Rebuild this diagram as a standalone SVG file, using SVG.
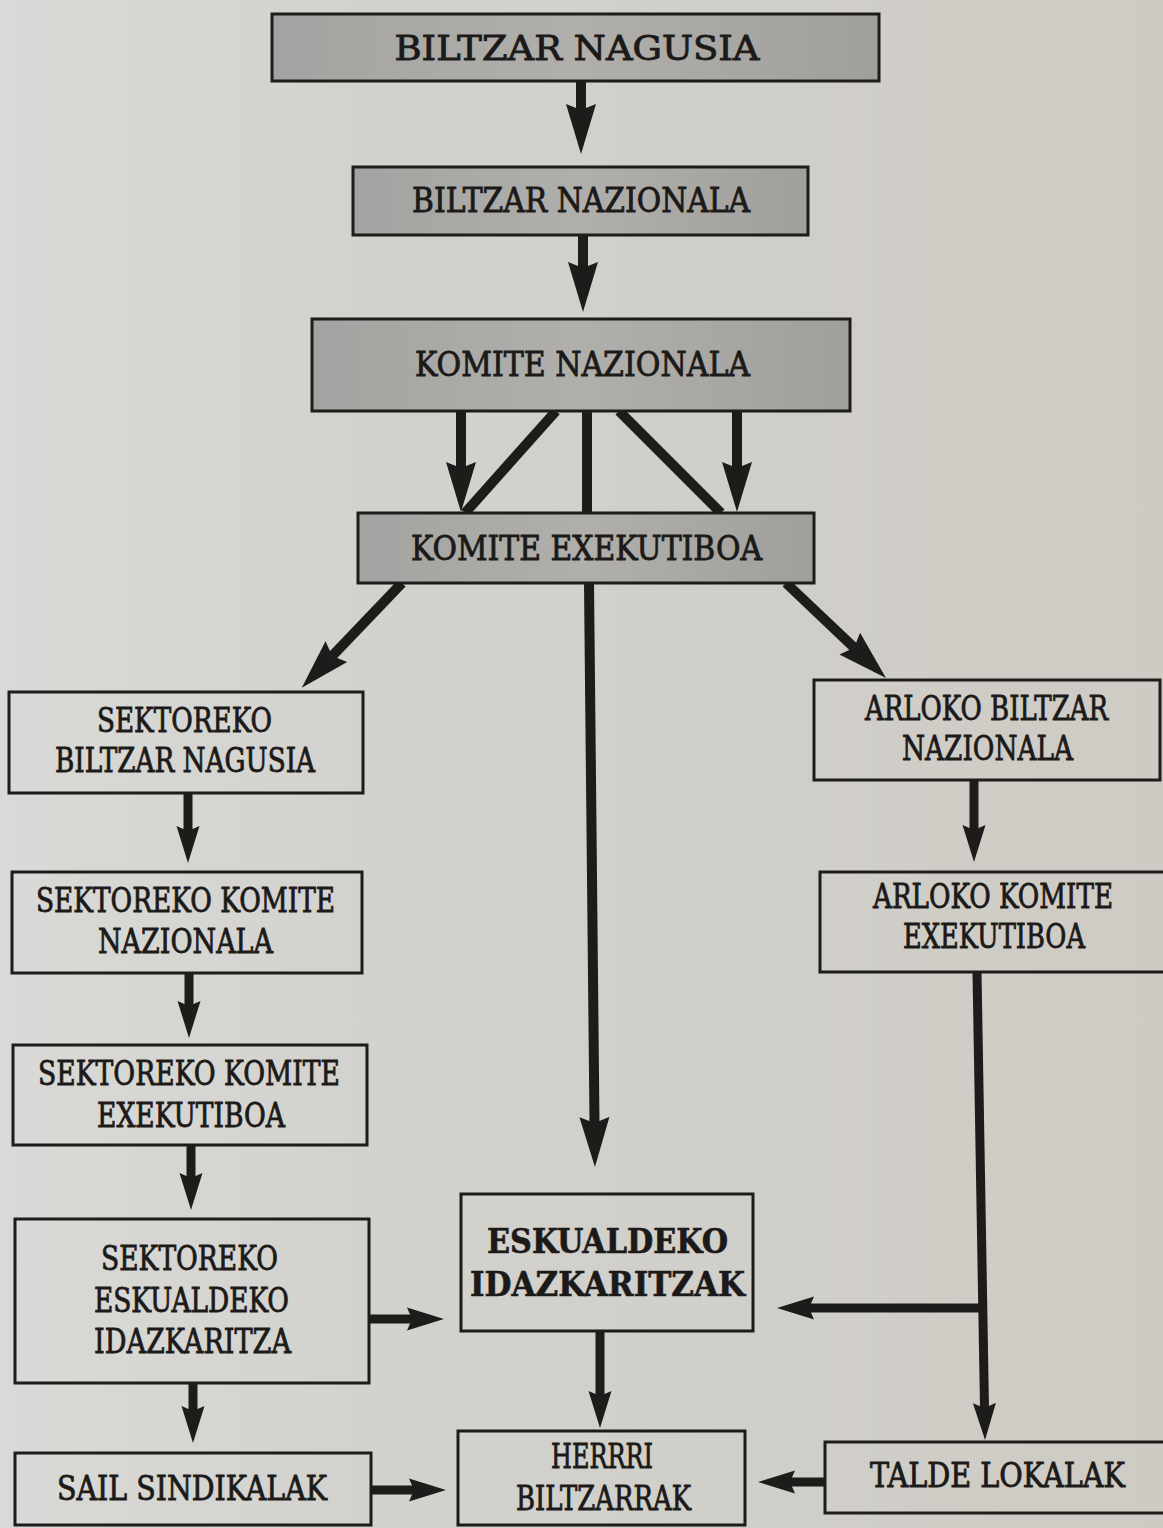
<svg xmlns="http://www.w3.org/2000/svg" width="1163" height="1528" viewBox="0 0 1163 1528">
<defs>
  <linearGradient id="paper" x1="0" y1="0" x2="1" y2="0">
    <stop offset="0" stop-color="#d9d9d7"/>
    <stop offset="0.3" stop-color="#d3d2ce"/>
    <stop offset="1" stop-color="#cecbc4"/>
  </linearGradient>
  <linearGradient id="greyfill" x1="0" y1="0" x2="1" y2="0">
    <stop offset="0" stop-color="#a3a3a1"/>
    <stop offset="0.5" stop-color="#b0afac"/>
    <stop offset="1" stop-color="#a09f9c"/>
  </linearGradient>
  <marker id="big" markerUnits="userSpaceOnUse" viewBox="0 -16 52 32" markerWidth="52" markerHeight="32" refX="6" refY="0" orient="auto">
    <path d="M0,-15 L50,0 L0,15 L6,0 Z" fill="#1e1c1a"/>
  </marker>
  <marker id="small" markerUnits="userSpaceOnUse" viewBox="0 -13 40 26" markerWidth="40" markerHeight="26" refX="5" refY="0" orient="auto">
    <path d="M0,-11.5 L37,0 L0,11.5 L5,0 Z" fill="#1e1c1a"/>
  </marker>
</defs>
<style>
  .box { stroke: #1e1c1a; stroke-width: 3; fill: none; }
  .grey { fill: url(#greyfill); }
  .t { font-family: "DejaVu Serif Condensed", "DejaVu Serif", "Liberation Serif", serif; font-stretch: condensed; fill: #1c1a18; stroke: #1c1a18; stroke-width: 0.8px; text-anchor: middle; font-size: 34px; }
  .b { font-weight: bold; stroke-width: 0.6px; }
  .c { stroke: #1e1c1a; stroke-width: 10; fill: none; }
  .cs { stroke: #1e1c1a; stroke-width: 9; fill: none; }
</style>
<rect x="0" y="0" width="1163" height="1528" fill="url(#paper)"/>

<g id="connectors">
  <line class="c" x1="581" y1="81" x2="581" y2="110" marker-end="url(#big)"/>
  <line class="c" x1="583" y1="235" x2="583" y2="268" marker-end="url(#big)"/>
  <line class="c" x1="461" y1="411" x2="461" y2="468" marker-end="url(#big)"/>
  <line class="c" x1="737" y1="411" x2="737" y2="468" marker-end="url(#big)"/>
  <line class="c" x1="556" y1="411" x2="465" y2="513"/>
  <line class="c" x1="619" y1="411" x2="721" y2="513"/>
  <line class="c" x1="587" y1="411" x2="587" y2="513"/>
  <line class="c" x1="402" y1="583" x2="332.2" y2="656" marker-end="url(#big)"/>
  <line class="c" x1="786" y1="583" x2="854.1" y2="647.7" marker-end="url(#big)"/>
  <line class="c" x1="589" y1="583" x2="594.5" y2="1123" marker-end="url(#big)"/>
  <line class="cs" x1="188" y1="793" x2="188" y2="831" marker-end="url(#small)"/>
  <line class="cs" x1="189" y1="973" x2="189" y2="1006" marker-end="url(#small)"/>
  <line class="cs" x1="191" y1="1145" x2="191" y2="1178" marker-end="url(#small)"/>
  <line class="cs" x1="193" y1="1383" x2="193" y2="1411" marker-end="url(#small)"/>
  <line class="cs" x1="369" y1="1319" x2="412" y2="1319" marker-end="url(#small)"/>
  <line class="cs" x1="371" y1="1490" x2="414" y2="1490" marker-end="url(#small)"/>
  <line class="cs" x1="600" y1="1331" x2="600" y2="1396" marker-end="url(#small)"/>
  <line class="cs" x1="974" y1="780" x2="974" y2="830" marker-end="url(#small)"/>
  <line class="cs" x1="977" y1="972" x2="984.5" y2="1408" marker-end="url(#small)"/>
  <line class="cs" x1="987" y1="1308" x2="809" y2="1308" marker-end="url(#small)"/>
  <line class="cs" x1="825" y1="1482" x2="790" y2="1482" marker-end="url(#small)"/>
</g>

<g id="n-biltzar-nagusia">
  <rect class="box grey" x="272" y="14" width="607" height="67"/>
  <text class="t" x="577" y="60" font-size="49" textLength="365" lengthAdjust="spacingAndGlyphs">BILTZAR NAGUSIA</text>
</g>
<g id="n-biltzar-nazionala">
  <rect class="box grey" x="353" y="167" width="455" height="68"/>
  <text class="t" x="581" y="212" font-size="40" textLength="338" lengthAdjust="spacingAndGlyphs">BILTZAR NAZIONALA</text>
</g>
<g id="n-komite-nazionala">
  <rect class="box grey" x="312" y="319" width="538" height="92"/>
  <text class="t" x="582.5" y="376" font-size="40" textLength="335" lengthAdjust="spacingAndGlyphs">KOMITE NAZIONALA</text>
</g>
<g id="n-komite-exekutiboa">
  <rect class="box grey" x="358" y="513" width="456" height="70"/>
  <text class="t" x="586.5" y="560" font-size="41" textLength="351" lengthAdjust="spacingAndGlyphs">KOMITE EXEKUTIBOA</text>
</g>
<g id="n-sektoreko-biltzar-nagusia">
  <rect class="box" x="9" y="692" width="354" height="101"/>
  <text class="t" x="184.5" y="732" textLength="175" lengthAdjust="spacingAndGlyphs">SEKTOREKO</text>
  <text class="t" x="185" y="772" textLength="260" lengthAdjust="spacingAndGlyphs">BILTZAR NAGUSIA</text>
</g>
<g id="n-sektoreko-komite-nazionala">
  <rect class="box" x="12" y="872" width="350" height="101"/>
  <text class="t" x="185.5" y="912" textLength="299" lengthAdjust="spacingAndGlyphs">SEKTOREKO KOMITE</text>
  <text class="t" x="185.5" y="953" textLength="175" lengthAdjust="spacingAndGlyphs">NAZIONALA</text>
</g>
<g id="n-sektoreko-komite-exekutiboa">
  <rect class="box" x="13" y="1045" width="354" height="100"/>
  <text class="t" x="189" y="1085" textLength="302" lengthAdjust="spacingAndGlyphs">SEKTOREKO KOMITE</text>
  <text class="t" x="191" y="1127" textLength="188" lengthAdjust="spacingAndGlyphs">EXEKUTIBOA</text>
</g>
<g id="n-sektoreko-eskualdeko-idazkaritza">
  <rect class="box" x="15" y="1219" width="354" height="164"/>
  <text class="t" x="189.5" y="1270" textLength="177" lengthAdjust="spacingAndGlyphs">SEKTOREKO</text>
  <text class="t" x="191.5" y="1312" textLength="195" lengthAdjust="spacingAndGlyphs">ESKUALDEKO</text>
  <text class="t" x="192.5" y="1353" textLength="197" lengthAdjust="spacingAndGlyphs">IDAZKARITZA</text>
</g>
<g id="n-sail-sindikalak">
  <rect class="box" x="15" y="1453" width="356" height="72"/>
  <text class="t" x="192" y="1500" font-size="37" textLength="270" lengthAdjust="spacingAndGlyphs">SAIL SINDIKALAK</text>
</g>
<g id="n-eskualdeko-idazkaritzak">
  <rect class="box" x="461" y="1194" width="292" height="137"/>
  <text class="t b" x="607.5" y="1253" font-size="40" textLength="241" lengthAdjust="spacingAndGlyphs">ESKUALDEKO</text>
  <text class="t b" x="607.5" y="1296" font-size="40" textLength="275" lengthAdjust="spacingAndGlyphs">IDAZKARITZAK</text>
</g>
<g id="n-herrri-biltzarrak">
  <rect class="box" x="458" y="1431" width="287" height="94"/>
  <text class="t" x="602" y="1468" textLength="102" lengthAdjust="spacingAndGlyphs">HERRRI</text>
  <text class="t" x="603.5" y="1510" font-size="36" textLength="175" lengthAdjust="spacingAndGlyphs">BILTZARRAK</text>
</g>
<g id="n-arloko-biltzar-nazionala">
  <rect class="box" x="814" y="680" width="346" height="100"/>
  <text class="t" x="986.5" y="720" textLength="243" lengthAdjust="spacingAndGlyphs">ARLOKO BILTZAR</text>
  <text class="t" x="987.5" y="760" textLength="171" lengthAdjust="spacingAndGlyphs">NAZIONALA</text>
</g>
<g id="n-arloko-komite-exekutiboa">
  <rect class="box" x="820" y="872" width="350" height="100"/>
  <text class="t" x="993" y="908" textLength="240" lengthAdjust="spacingAndGlyphs">ARLOKO KOMITE</text>
  <text class="t" x="994" y="948" textLength="182" lengthAdjust="spacingAndGlyphs">EXEKUTIBOA</text>
</g>
<g id="n-talde-lokalak">
  <rect class="box" x="825" y="1442" width="345" height="71"/>
  <text class="t" x="997.5" y="1487" font-size="39" textLength="255" lengthAdjust="spacingAndGlyphs">TALDE LOKALAK</text>
</g>
</svg>
